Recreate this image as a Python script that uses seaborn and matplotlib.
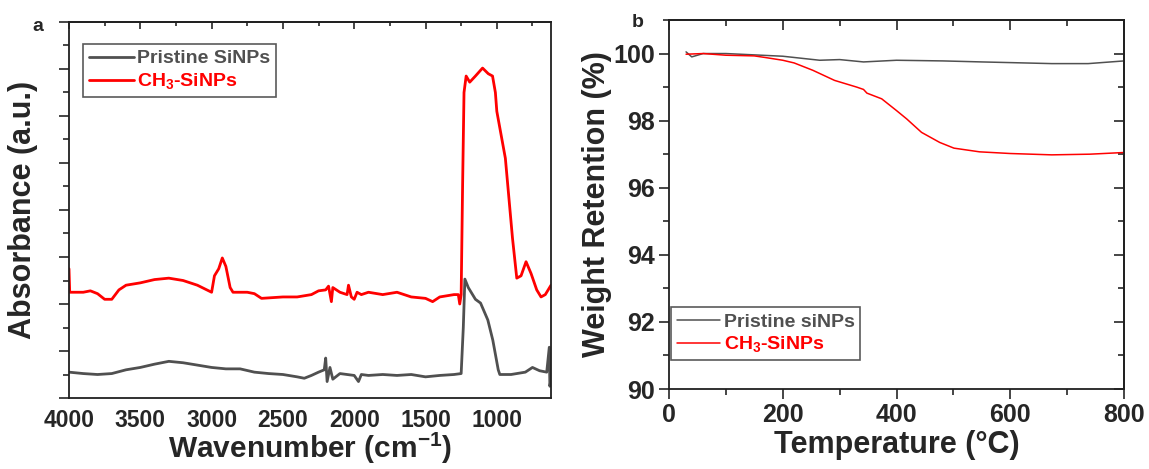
import matplotlib
matplotlib.use("Agg")
import matplotlib.pyplot as plt
import seaborn as sns
import pandas as pd
from matplotlib.ticker import MultipleLocator, NullFormatter

sns.set_theme(style="white")
plt.rcParams['font.family'] = ['Liberation Sans', 'DejaVu Sans']
plt.rcParams['font.weight'] = 'bold'
plt.rcParams['mathtext.fontset'] = 'custom'
plt.rcParams['mathtext.rm'] = 'Liberation Sans:bold'
plt.rcParams['mathtext.bf'] = 'Liberation Sans:bold'
plt.rcParams['mathtext.it'] = 'Liberation Sans:bold'
plt.rcParams['mathtext.default'] = 'rm'

# ---------------- Panel a: FTIR ----------------
ftir_ch3_wn = [4000, 3995, 3900, 3850, 3800, 3750, 3700, 3650, 3600, 3500, 3400, 3300, 3200,
               3100, 3000, 2980, 2950, 2925, 2900, 2870, 2850, 2750, 2700, 2650, 2600, 2500,
               2400, 2300, 2250, 2200, 2180, 2160, 2150, 2100, 2050, 2040, 2020, 2000, 1980,
               1950, 1900, 1800, 1700, 1600, 1500, 1450, 1400, 1300, 1270, 1260, 1250, 1240,
               1230, 1215, 1190, 1150, 1100, 1060, 1030, 1010, 1000, 940, 890, 860, 830,
               795, 760, 720, 690, 660, 620]
ftir_ch3_abs = [2.75, 2.25, 2.25, 2.28, 2.22, 2.1, 2.1, 2.3, 2.4, 2.45, 2.52, 2.55, 2.5,
                2.4, 2.25, 2.6, 2.75, 2.98, 2.8, 2.35, 2.25, 2.25, 2.22, 2.12, 2.13, 2.15,
                2.15, 2.2, 2.28, 2.3, 2.38, 2.05, 2.35, 2.25, 2.2, 2.4, 2.15, 2.1, 2.25,
                2.2, 2.25, 2.2, 2.25, 2.15, 2.12, 2.05, 2.15, 2.2, 2.2, 2.0, 2.2, 4.5,
                6.5, 6.85, 6.72, 6.85, 7.02, 6.9, 6.85, 6.5, 6.1, 5.1, 3.4, 2.55, 2.6,
                2.9, 2.65, 2.3, 2.15, 2.2, 2.4]

ftir_pristine_wn = [4000, 3900, 3800, 3700, 3600, 3500, 3400, 3300, 3200, 3100, 3000, 2900,
                    2800, 2700, 2600, 2500, 2400, 2350, 2300, 2250, 2210, 2200, 2190, 2170,
                    2150, 2100, 2050, 2000, 1970, 1950, 1900, 1800, 1700, 1600, 1500, 1400,
                    1300, 1250, 1235, 1224, 1200, 1150, 1114, 1063, 1028, 990, 979, 900, 800,
                    750, 700, 650, 632, 628, 620]
ftir_pristine_abs = [0.55, 0.52, 0.5, 0.52, 0.6, 0.65, 0.72, 0.78, 0.75, 0.7, 0.65, 0.62,
                     0.62, 0.55, 0.52, 0.5, 0.45, 0.42, 0.48, 0.55, 0.6, 0.85, 0.35, 0.65,
                     0.4, 0.52, 0.5, 0.48, 0.35, 0.5, 0.48, 0.5, 0.48, 0.5, 0.45, 0.48,
                     0.5, 0.52, 1.5, 2.53, 2.35, 2.1, 2.02, 1.66, 1.23, 0.6, 0.5, 0.5, 0.55,
                     0.65, 0.58, 0.55, 1.08, 0.25, 0.4]

# ---------------- Panel b: TGA ----------------
tga_pristine_t = [30, 40, 60, 100, 150, 200, 265, 300, 342, 400, 482, 550, 600, 673, 737, 800]
tga_pristine_w = [100.05, 99.9, 100.0, 100.0, 99.96, 99.92, 99.8, 99.82, 99.75, 99.8, 99.78,
                  99.75, 99.73, 99.7, 99.7, 99.78]
tga_ch3_t = [30, 60, 100, 150, 170, 200, 220, 253, 291, 330, 342, 348, 374, 400, 418, 444,
             476, 501, 546, 600, 673, 740, 800]
tga_ch3_w = [99.98, 100.0, 99.95, 99.93, 99.88, 99.8, 99.72, 99.5, 99.2, 99.0, 98.93, 98.82,
             98.65, 98.3, 98.05, 97.65, 97.35, 97.18, 97.07, 97.02, 96.98, 97.0, 97.05]

GRAY = '#505050'
RED = '#ff0000'

W, H = 1149, 469
fig = plt.figure(figsize=(W / 100, H / 100), dpi=100)

# Panel a
axa = fig.add_axes([69 / W, (H - 398) / H, (551 - 69) / W, (398 - 22) / H])
dfa1 = pd.DataFrame({'wn': ftir_pristine_wn, 'abs': ftir_pristine_abs})
dfa2 = pd.DataFrame({'wn': ftir_ch3_wn, 'abs': ftir_ch3_abs})
sns.lineplot(data=dfa1, x='wn', y='abs', ax=axa, color=GRAY, lw=2, estimator=None,
             label='Pristine SiNPs')
sns.lineplot(data=dfa2, x='wn', y='abs', ax=axa, color=RED, lw=2, estimator=None,
             label=r'CH$_3$-SiNPs')
axa.set_xlim(4000, 620)
axa.set_ylim(0, 8)
axa.xaxis.set_major_locator(MultipleLocator(500))
axa.xaxis.set_minor_locator(MultipleLocator(250))
axa.yaxis.set_major_locator(MultipleLocator(1))
axa.yaxis.set_minor_locator(MultipleLocator(0.5))
axa.yaxis.set_major_formatter(NullFormatter())
axa.tick_params(axis='x', which='major', direction='out', length=5, width=1.2,
                labelsize=16.5, pad=3, top=False)
axa.tick_params(axis='x', which='minor', direction='out', length=3, width=1.2, top=False)
axa.tick_params(axis='y', which='major', direction='out', length=7, width=1.2, left=True)
axa.tick_params(axis='y', which='minor', direction='out', length=4, width=1.2, left=True)
axa.set_xlabel(r'Wavenumber (cm$^{-1}$)', fontsize=21.5, fontweight='bold', labelpad=-1)
axa.set_ylabel('Absorbance (a.u.)', fontsize=22, fontweight='bold', labelpad=12)
for lab in axa.get_xticklabels():
    lab.set_fontweight('bold')
leg = axa.legend(loc='upper left', bbox_to_anchor=(0.029, 0.9415), borderaxespad=0,
                 fontsize=14, frameon=True, fancybox=False, edgecolor='#303030',
                 labelcolor='linecolor', handlelength=2.3, handletextpad=0.2,
                 borderpad=0.3, labelspacing=0.2)
leg.get_frame().set_linewidth(1.2)
for t in leg.get_texts():
    t.set_fontweight('bold')
axa.text(-0.065, 1.01, 'a', transform=axa.transAxes, fontsize=14, fontweight='bold',
         ha='center', va='top')

# secondary x on panel a top: inward ticks
seca = axa.secondary_xaxis('top')
seca.xaxis.set_major_locator(MultipleLocator(500))
seca.xaxis.set_minor_locator(MultipleLocator(250))
seca.tick_params(which='major', direction='in', length=5, width=1.2, labeltop=False)
seca.tick_params(which='minor', direction='in', length=3, width=1.2)
seca.set_xticklabels([])

# Panel b
axb = fig.add_axes([669 / W, (H - 389) / H, (1124 - 669) / W, (389 - 20) / H])
dfb1 = pd.DataFrame({'T': tga_pristine_t, 'w': tga_pristine_w})
dfb2 = pd.DataFrame({'T': tga_ch3_t, 'w': tga_ch3_w})
sns.lineplot(data=dfb1, x='T', y='w', ax=axb, color=GRAY, lw=1.1, estimator=None,
             label='Pristine siNPs')
sns.lineplot(data=dfb2, x='T', y='w', ax=axb, color=RED, lw=1.1, estimator=None,
             label=r'CH$_3$-SiNPs')
axb.set_xlim(0, 800)
axb.set_ylim(90, 101)
axb.xaxis.set_major_locator(MultipleLocator(200))
axb.xaxis.set_minor_locator(MultipleLocator(100))
axb.yaxis.set_minor_locator(MultipleLocator(1))
axb.set_yticks([90, 92, 94, 96, 98, 100])
axb.tick_params(axis='both', which='major', direction='out', length=7, width=1.2,
                labelsize=18, pad=3, left=True, bottom=True)
axb.tick_params(axis='both', which='minor', direction='out', length=4, width=1.2,
                left=True, bottom=True)
axb.set_xlabel('Temperature (°C)', fontsize=22, fontweight='bold', labelpad=2)
axb.set_ylabel('Weight Retention (%)', fontsize=22, fontweight='bold', labelpad=1)
for lab in axb.get_xticklabels() + axb.get_yticklabels():
    lab.set_fontweight('bold')
secx = axb.secondary_xaxis('top')
secx.xaxis.set_major_locator(MultipleLocator(200))
secx.xaxis.set_minor_locator(MultipleLocator(100))
secx.tick_params(which='major', direction='in', length=7, width=1.2, labeltop=False)
secx.tick_params(which='minor', direction='in', length=4, width=1.2)
secx.set_xticklabels([])
secy = axb.secondary_yaxis('right')
secy.yaxis.set_major_locator(MultipleLocator(2))
secy.yaxis.set_minor_locator(MultipleLocator(1))
secy.tick_params(which='major', direction='in', length=7, width=1.2, labelright=False)
secy.tick_params(which='minor', direction='in', length=4, width=1.2)
secy.set_yticklabels([])
legb = axb.legend(loc='upper left', bbox_to_anchor=(0.0044, 0.222), borderaxespad=0,
                  fontsize=14, frameon=True, fancybox=False, edgecolor='#303030',
                  labelcolor='linecolor', handlelength=2.2, handletextpad=0.2,
                  borderpad=0.3, labelspacing=0.2)
legb.get_frame().set_linewidth(1.2)
for t in legb.get_texts():
    t.set_fontweight('bold')
axb.text(-0.07, 1.015, 'b', transform=axb.transAxes, fontsize=14, fontweight='bold',
         ha='center', va='top')

for ax in (axa, axb):
    for s in ax.spines.values():
        s.set_color('#202020')
        s.set_linewidth(1.3)
        s.set_visible(True)
for sec in (seca, secx, secy):
    for s in sec.spines.values():
        s.set_linewidth(1.3)
        s.set_color('#202020')

fig.savefig('out.png', dpi=100, facecolor='white')
